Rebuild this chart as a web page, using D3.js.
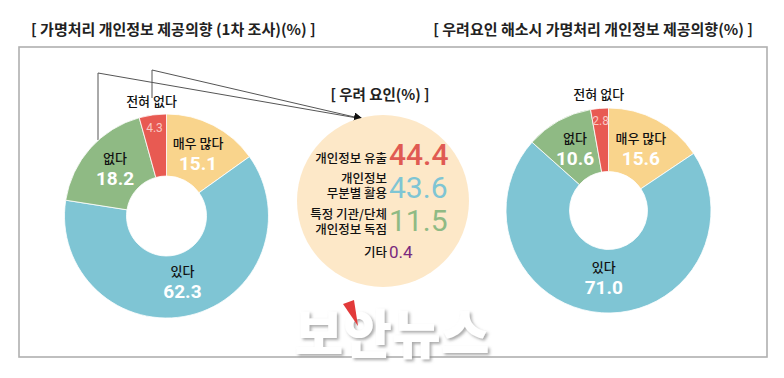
<!DOCTYPE html>
<html><head><meta charset="utf-8">
<script src="https://cdn.jsdelivr.net/npm/d3@7"></script>
<style>body{margin:0;background:#fff;}svg{display:block;}</style>
</head><body>
<svg id="c" width="784" height="378"></svg>
<script>
// ---- data ----
const categories = ["매우 많다", "있다", "없다", "전혀 없다"];
const firstSurvey = [15.1, 62.3, 18.2, 4.3];
const afterResolve = [15.6, 71.0, 10.6, 2.8];
const concernLabels = [["개인정보 유출"], ["개인정보", "무분별 활용"], ["특정 기관/단체", "개인정보 독점"], ["기타"]];
const concernValues = [44.4, 43.6, 11.5, 0.4];
const titles = ["[ 가명처리 개인정보 제공의향 (1차 조사)(%) ]", "[ 우려요인 해소시 가명처리 개인정보 제공의향(%) ]", "[ 우려 요인(%) ]"];

// ---- style ----
const sliceColors = ["#f9d48c", "#7fc5d4", "#8fba84", "#e85a52"];
const concernColors = ["#e05a52", "#7fc5d4", "#8fba84", "#7a2a7e"];
const concernSizes = [30, 30, 30, 17];
const KR = "'Noto Sans CJK KR', 'Noto Sans', sans-serif";
const NUM = "Roboto, 'Noto Sans', sans-serif";

const svg = d3.select("#c");
const defs = svg.append("defs");
defs.append("marker").attr("id", "arr").attr("viewBox", "0 0 10 10")
  .attr("refX", 10).attr("refY", 5).attr("markerWidth", 9).attr("markerHeight", 9)
  .attr("markerUnits", "userSpaceOnUse").attr("orient", "auto")
  .append("path").attr("d", "M0,0 L10,5 L0,10 z").attr("fill", "#111");
const f = defs.append("filter").attr("id", "sh").attr("x", "-10%").attr("y", "-20%").attr("width", "130%").attr("height", "150%");
f.append("feDropShadow").attr("dx", 2).attr("dy", 2).attr("stdDeviation", 1.8).attr("flood-color", "#888").attr("flood-opacity", 0.7);

// frame
svg.append("rect").attr("x", 19).attr("y", 47).attr("width", 748).attr("height", 310)
  .attr("fill", "none").attr("stroke", "#b0b0b0").attr("stroke-width", 1.6);

// titles
svg.append("text").attr("x", 31).attr("y", 35).text(titles[0])
  .attr("font-family", KR).attr("font-weight", 700).attr("font-size", 15).attr("fill", "#222");
svg.append("text").attr("x", 753).attr("y", 35).attr("text-anchor", "end").text(titles[1])
  .attr("font-family", KR).attr("font-weight", 700).attr("font-size", 15).attr("fill", "#222");

// connector lines
const line = d3.line();
const tip = [363, 119];
svg.append("path").attr("d", line([[98, 140], [98, 73], tip]))
  .attr("fill", "none").attr("stroke", "#555").attr("stroke-width", 1).attr("marker-end", "url(#arr)");
svg.append("path").attr("d", line([[152, 98], [152, 70], tip]))
  .attr("fill", "none").attr("stroke", "#555").attr("stroke-width", 1).attr("marker-end", "url(#arr)");

function donut(values, cx, cy, rOut, rIn, valSize) {
  const g = svg.append("g").attr("transform", `translate(${cx},${cy})`);
  const pie = d3.pie().sort(null).value(d => d);
  const arcs = pie(values);
  const arc = d3.arc().innerRadius(rIn).outerRadius(rOut);
  g.selectAll("path.s").data(arcs).join("path").attr("class", "s")
    .attr("d", arc).attr("fill", (d, i) => sliceColors[i])
    .attr("stroke", "#fff").attr("stroke-width", 0.8);
  const mid = d3.arc().innerRadius(rIn).outerRadius(rOut - 4);
  arcs.forEach((a, i) => {
    const isSmall = values[i] < 5;
    if (isSmall) {
      const ang = (a.startAngle + a.endAngle) / 2;
      const rv = rOut - 13, rn = rOut + 9;
      g.append("text").attr("x", Math.sin(ang) * rv).attr("y", -Math.cos(ang) * rv + 4)
        .attr("text-anchor", "middle").attr("font-family", NUM).attr("font-size", 12)
        .attr("fill", "#f8c8c2").text(values[i].toFixed(1));
      g.append("text").attr("x", Math.sin(ang) * rn).attr("y", -Math.cos(ang) * rn)
        .attr("text-anchor", "middle").attr("font-family", KR).attr("font-size", 13)
        .attr("font-weight", 500).attr("fill", "#111").text(categories[i]);
    } else {
      const c = mid.centroid(a);
      g.append("text").attr("x", c[0]).attr("y", c[1] - 7)
        .attr("text-anchor", "middle").attr("font-family", KR).attr("font-size", 13)
        .attr("font-weight", 500).attr("fill", "#111").text(categories[i]);
      g.append("text").attr("x", c[0]).attr("y", c[1] + 15)
        .attr("text-anchor", "middle").attr("font-family", NUM).attr("font-size", valSize)
        .attr("font-weight", 700).attr("fill", "#fff").text(values[i].toFixed(1));
    }
  });
}
donut(firstSurvey, 166.5, 216, 102, 40, 19);
donut(afterResolve, 608.5, 210.5, 102.5, 39, 19);

// concern bubble
const bx = 383, by = 201, br = 86;
svg.append("circle").attr("cx", bx).attr("cy", by).attr("r", br).attr("fill", "#fde8c8");
svg.append("text").attr("x", 380).attr("y", 100).attr("text-anchor", "middle").text(titles[2])
  .attr("font-family", KR).attr("font-weight", 700).attr("font-size", 14.5).attr("fill", "#222");
const valueBase = [165, 198, 231, 258];
const labelBase = [163, 198, 234, 257];
concernValues.forEach((v, i) => {
  const lines = concernLabels[i];
  const t = svg.append("text").attr("text-anchor", "end").attr("font-family", KR)
    .attr("font-size", 12.5).attr("font-weight", 500).attr("fill", "#111");
  lines.forEach((ln, k) => {
    t.append("tspan").attr("x", 387)
      .attr("y", labelBase[i] - (lines.length - 1 - k) * 15).text(ln);
  });
  svg.append("text").attr("x", 389).attr("y", valueBase[i]).attr("font-family", NUM)
    .attr("font-size", concernSizes[i]).attr("font-weight", i === 0 ? 500 : 400)
    .attr("fill", concernColors[i]).text(v.toFixed(1));
});

// watermark
svg.append("text").attr("x", 392).attr("y", 354).attr("text-anchor", "middle")
  .attr("font-family", KR).attr("font-weight", 900).attr("font-size", 53)
  .attr("fill", "#fff").attr("filter", "url(#sh)").text("보안뉴스");
svg.append("path").attr("d", "M343,304 L354,300 L358,326 Z").attr("fill", "#e23a3a");
</script>
</body></html>
